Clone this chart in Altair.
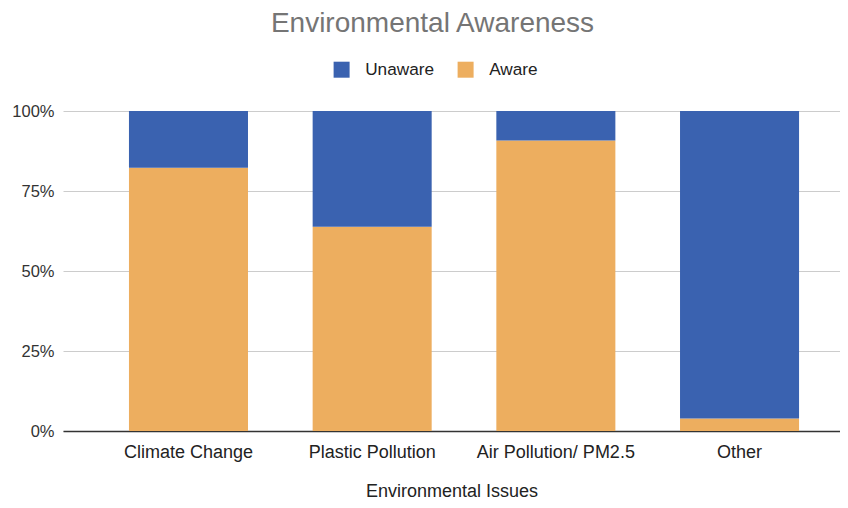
import altair as alt
import pandas as pd

issues = ["Climate Change", "Plastic Pollution", "Air Pollution/ PM2.5", "Other"]
aware = [0.823, 0.638, 0.908, 0.039]
unaware = [round(1 - a, 3) for a in aware]
series = ["Unaware", "Aware"]
colors = ["#3A62B0", "#EDAE5F"]

rows = []
for i, iss in enumerate(issues):
    rows.append({"issue": iss, "status": "Aware", "value": aware[i], "order": 0})
    rows.append({"issue": iss, "status": "Unaware", "value": unaware[i], "order": 1})
df = pd.DataFrame(rows)

FONT = "Liberation Sans"

chart = alt.Chart(df).mark_bar().encode(
    x=alt.X("issue:N", sort=issues,
            scale=alt.Scale(paddingInner=0.352, paddingOuter=0.291, align=0.617),
            axis=alt.Axis(title="Environmental Issues", labelAngle=0,
                          labelFont=FONT, labelFontSize=18, labelColor="#222222",
                          titleFont=FONT, titleFontSize=18, titleFontWeight="normal",
                          titleColor="#222222", labelPadding=12, titlePadding=21,
                          ticks=False, domainColor="#333333", domainWidth=1.3)),
    y=alt.Y("value:Q", stack="zero",
            scale=alt.Scale(domain=[0, 1]),
            axis=alt.Axis(title=None, format="%", values=[0, 0.25, 0.5, 0.75, 1],
                          labelFont=FONT, labelFontSize=16.5, labelColor="#333333",
                          labelPadding=9, ticks=False, domain=False,
                          gridColor="#CCCCCC", gridWidth=1)),
    color=alt.Color("status:N", sort=series,
                    scale=alt.Scale(domain=series, range=colors),
                    legend=alt.Legend(title=None, orient="none", direction="horizontal",
                                      legendX=270, legendY=-50,
                                      symbolType="square", symbolSize=256,
                                      symbolStrokeWidth=0, labelFont=FONT,
                                      labelFontSize=17.2, labelColor="#222222",
                                      columnPadding=23, labelOffset=15)),
    order=alt.Order("order:Q"),
).properties(
    width=777, height=320,
    title=alt.TitleParams("Environmental Awareness", font=FONT, fontSize=28,
                          fontWeight="normal", color="#757575", anchor="middle",
                          dx=-19, offset=23),
    autosize=alt.AutoSizeParams(type="none"),
    padding={"left": 55, "top": 103, "right": 0, "bottom": 69},
).configure_view(stroke=None)

chart.save("out.html", embed_options={"renderer": "svg", "actions": False})
